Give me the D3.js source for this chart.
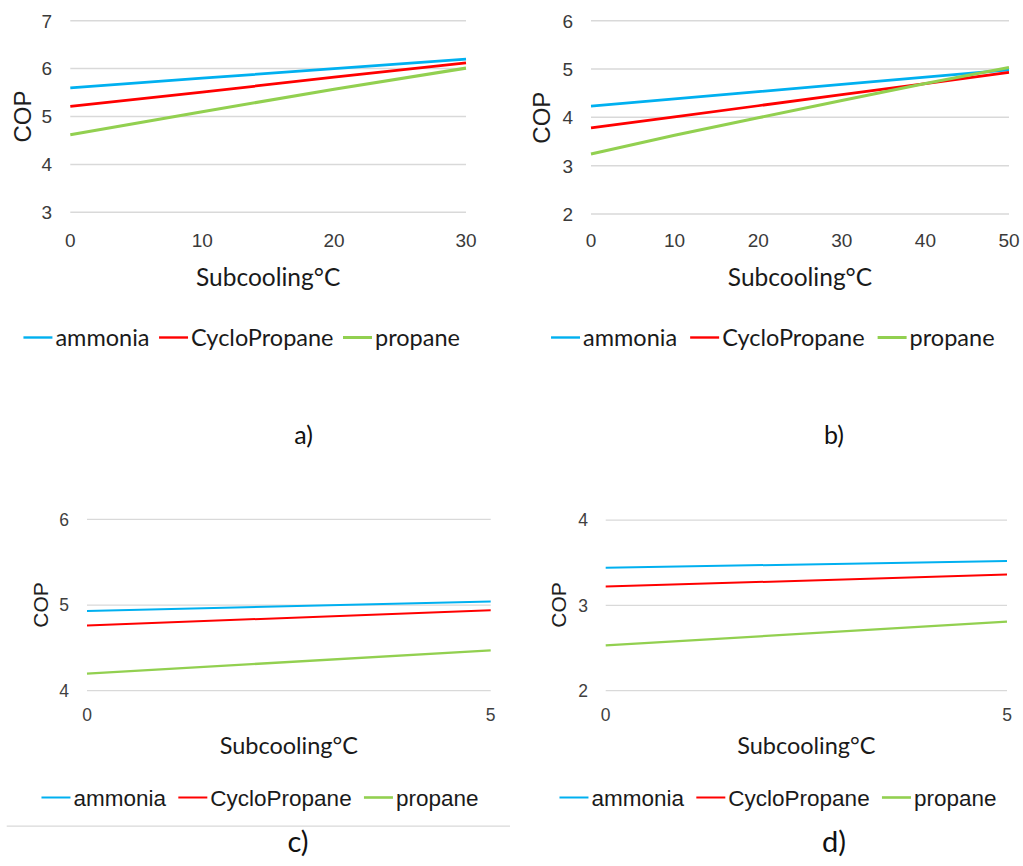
<!DOCTYPE html>
<html>
<head>
<meta charset="utf-8">
<script src="https://cdn.jsdelivr.net/npm/d3@7"></script>
<style>
  html, body { margin: 0; padding: 0; background: #ffffff; }
  svg { display: block; }
</style>
</head>
<body>
<svg id="chart" width="1023" height="866"></svg>
<script>
// Refrigerants plotted in every panel
const refrigerants = ["ammonia", "CycloPropane", "propane"];

// a) COP vs subcooling, 0–30 °C
const subcoolingA = [0, 10, 20, 30];
const ammoniaA = [5.60, 5.80, 6.00, 6.20];
const cyclopropaneA = [5.21, 5.51, 5.82, 6.12];
const propaneA = [4.62, 5.10, 5.57, 6.01];
const xTicksA = [0, 10, 20, 30];
const yTicksA = [3, 4, 5, 6, 7];

// b) COP vs subcooling, 0–50 °C
const subcoolingB = [0, 10, 20, 30, 40, 50];
const ammoniaB = [4.23, 4.38, 4.53, 4.68, 4.83, 4.98];
const cyclopropaneB = [3.78, 4.01, 4.24, 4.47, 4.70, 4.93];
const propaneB = [3.24, 3.63, 3.99, 4.35, 4.70, 5.03];
const xTicksB = [0, 10, 20, 30, 40, 50];
const yTicksB = [2, 3, 4, 5, 6];

// c) COP vs subcooling, 0–5 °C
const subcoolingC = [0, 5];
const ammoniaC = [4.93, 5.04];
const cyclopropaneC = [4.76, 4.94];
const propaneC = [4.20, 4.47];
const xTicksC = [0, 5];
const yTicksC = [4, 5, 6];

// d) COP vs subcooling, 0–5 °C
const subcoolingD = [0, 5];
const ammoniaD = [3.44, 3.52];
const cyclopropaneD = [3.22, 3.36];
const propaneD = [2.53, 2.81];
const xTicksD = [0, 5];
const yTicksD = [2, 3, 4];

const captions = ["a)", "b)", "c)", "d)"];
const xTitle = "Subcooling°C";
const yTitle = "COP";

// Line colours per refrigerant
const colors = { "ammonia": "#00B0F0", "CycloPropane": "#FF0000", "propane": "#92D050" };

const panels = [
  { caption: captions[0], x: subcoolingA, series: [ammoniaA, cyclopropaneA, propaneA], xTicks: xTicksA, yTicks: yTicksA,
    layout: { x0: 70.3, x1: 466, y0: 212.3, y1: 20.7, yLabelX: 52, xLabelY: 247, tickSize: 19, tickColor: "#3a3a3a",
              copX: 30.7, copY: 116.5, copSize: 24, titleY: 286, titleSize: 24.5,
              legendY: 346, legendCx: 241.7, legendFont: "Lato, sans-serif", legendSize: 23.5, legendGap: 9.5,
              capX: 303.5, capY: 444, capSize: 25, lineW: 2.75, gridW: 1.5, swatchW: 2.4 } },
  { caption: captions[1], x: subcoolingB, series: [ammoniaB, cyclopropaneB, propaneB], xTicks: xTicksB, yTicks: yTicksB,
    layout: { x0: 591, x1: 1009, y0: 214, y1: 20.7, yLabelX: 573, xLabelY: 247, tickSize: 19, tickColor: "#3a3a3a",
              copX: 550.3, copY: 117.7, copSize: 24, titleY: 286, titleSize: 24.5,
              legendY: 346, legendCx: 772.8, legendFont: "Lato, sans-serif", legendSize: 23.5, legendGap: 13,
              capX: 834, capY: 444, capSize: 25, lineW: 2.75, gridW: 1.5, swatchW: 2.4 } },
  { caption: captions[2], x: subcoolingC, series: [ammoniaC, cyclopropaneC, propaneC], xTicks: xTicksC, yTicks: yTicksC,
    layout: { x0: 87, x1: 490.7, y0: 690.7, y1: 519.3, yLabelX: 69, xLabelY: 720.7, tickSize: 17.5, tickColor: "#404040",
              copX: 48.3, copY: 605, copSize: 21, titleY: 754, titleSize: 23.5,
              legendY: 806, legendCx: 260, legendFont: "'Liberation Sans', Arial, sans-serif", legendSize: 22.5, legendGap: 12.3,
              capX: 298, capY: 852, capSize: 29, lineW: 2, gridW: 1.25, swatchW: 2 } },
  { caption: captions[3], x: subcoolingD, series: [ammoniaD, cyclopropaneD, propaneD], xTicks: xTicksD, yTicks: yTicksD,
    layout: { x0: 605.7, x1: 1007, y0: 690.7, y1: 520, yLabelX: 588, xLabelY: 720.7, tickSize: 17.5, tickColor: "#404040",
              copX: 566, copY: 605, copSize: 21, titleY: 754, titleSize: 23.5,
              legendY: 806, legendCx: 778, legendFont: "'Liberation Sans', Arial, sans-serif", legendSize: 22.5, legendGap: 12.3,
              capX: 834, capY: 852, capSize: 29, lineW: 2, gridW: 1.25, swatchW: 2 } }
];

const svg = d3.select("#chart");
const tickFont = "'Liberation Sans', Arial, sans-serif";
const titleFont = "Lato, sans-serif";

panels.forEach(p => {
  const L = p.layout;
  const g = svg.append("g");
  const x = d3.scaleLinear().domain(d3.extent(p.xTicks)).range([L.x0, L.x1]);
  const y = d3.scaleLinear().domain(d3.extent(p.yTicks)).range([L.y0, L.y1]);

  // Horizontal gridlines
  g.append("g").selectAll("line").data(p.yTicks).join("line")
    .attr("x1", L.x0).attr("x2", L.x1)
    .attr("y1", d => y(d)).attr("y2", d => y(d))
    .attr("stroke", "#d9d9d9").attr("stroke-width", L.gridW);

  // Y tick labels
  g.append("g").selectAll("text").data(p.yTicks).join("text")
    .attr("x", L.yLabelX).attr("y", d => y(d))
    .attr("dy", "0.36em")
    .attr("text-anchor", "end")
    .style("font-family", tickFont).style("font-size", L.tickSize + "px")
    .attr("fill", L.tickColor)
    .text(d => d);

  // X tick labels
  g.append("g").selectAll("text").data(p.xTicks).join("text")
    .attr("x", d => x(d)).attr("y", L.xLabelY)
    .attr("text-anchor", "middle")
    .style("font-family", tickFont).style("font-size", L.tickSize + "px")
    .attr("fill", L.tickColor)
    .text(d => d);

  // Axis titles
  g.append("text")
    .attr("transform", `translate(${L.copX},${L.copY}) rotate(-90)`)
    .attr("text-anchor", "middle")
    .style("font-family", tickFont).style("font-size", L.copSize + "px")
    .attr("fill", "#1e1e1e")
    .text(yTitle);

  g.append("text")
    .attr("x", (L.x0 + L.x1) / 2).attr("y", L.titleY)
    .attr("text-anchor", "middle")
    .style("font-family", titleFont).style("font-size", L.titleSize + "px")
    .attr("fill", "#1a1a1a")
    .text(xTitle);

  // Series lines
  const line = d3.line().x((d, i) => x(p.x[i])).y(d => y(d));
  refrigerants.forEach((name, k) => {
    g.append("path")
      .datum(p.series[k])
      .attr("d", line)
      .attr("fill", "none")
      .attr("stroke", colors[name])
      .attr("stroke-width", name === "propane" ? L.lineW + 0.3 : L.lineW)
      .attr("stroke-linecap", "butt");
  });

  // Legend, laid out left to right and centred
  const swatchLen = 29, swatchPad = 3;
  const leg = g.append("g");
  const items = refrigerants.map(name => {
    const it = leg.append("g");
    it.append("line")
      .attr("x1", 0).attr("x2", swatchLen)
      .attr("y1", -8.5).attr("y2", -8.5)
      .attr("stroke", colors[name])
      .attr("stroke-width", name === "propane" ? L.swatchW + 0.6 : L.swatchW);
    const t = it.append("text")
      .attr("x", swatchLen + swatchPad).attr("y", 0)
      .style("font-family", L.legendFont).style("font-size", L.legendSize + "px")
      .attr("fill", "#1a1a1a")
      .text(name);
    return { it, w: swatchLen + swatchPad + t.node().getComputedTextLength() };
  });
  const total = d3.sum(items, d => d.w) + L.legendGap * (items.length - 1);
  let cx = L.legendCx - total / 2;
  items.forEach(d => {
    d.it.attr("transform", `translate(${cx},${L.legendY})`);
    cx += d.w + L.legendGap;
  });

  // Panel caption
  svg.append("text")
    .attr("x", L.capX).attr("y", L.capY)
    .attr("text-anchor", "middle")
    .style("font-family", titleFont).style("font-size", L.capSize + "px")
    .attr("fill", "#111")
    .text(p.caption);
});

// Thin rule under the lower-left legend
svg.append("line")
  .attr("x1", 6.7).attr("x2", 510)
  .attr("y1", 826).attr("y2", 826)
  .attr("stroke", "#d9d9d9").attr("stroke-width", 1.25);
</script>
</body>
</html>
